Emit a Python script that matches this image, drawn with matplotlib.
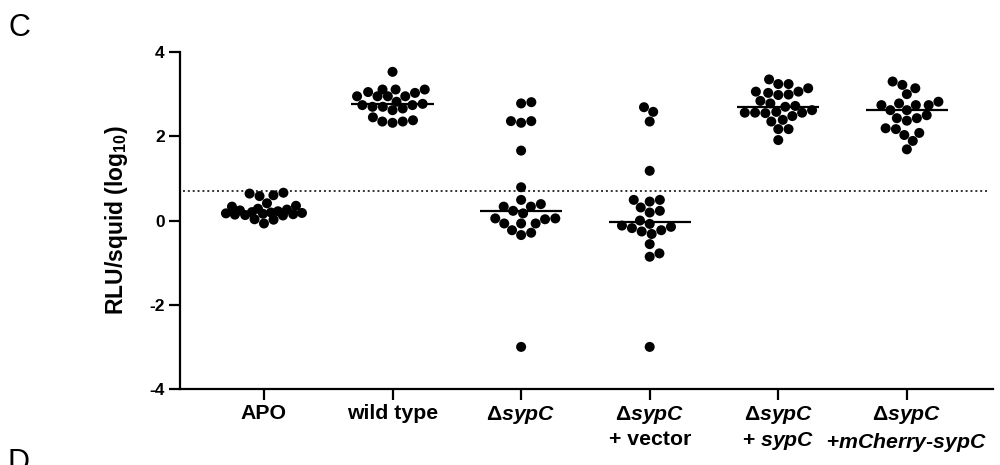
import numpy as np
import matplotlib
matplotlib.use("Agg")
import matplotlib.pyplot as plt

# ---------------- data ----------------
categories = ["APO", "wild type", "Δ$\\mathit{sypC}$", "Δ$\\mathit{sypC}$\n+ vector",
              "Δ$\\mathit{sypC}$\n+ $\\mathit{sypC}$",
              "Δ$\\mathit{sypC}$\n+$\\mathit{mCherry}$-$\\mathit{sypC}$"]

apo = [0.66, 0.64, 0.60, 0.58, 0.41, 0.35, 0.33, 0.28, 0.26, 0.24, 0.22, 0.20,
       0.19, 0.18, 0.17, 0.16, 0.15, 0.14, 0.13, 0.12, 0.03, 0.02, -0.07]
wild_type = [3.53, 3.11, 3.11, 3.11, 2.95, 2.95, 3.03, 3.05, 2.95, 2.95, 2.82, 2.77,
             2.66, 2.70, 2.62, 2.74, 2.74, 2.70, 2.35, 2.45, 2.35, 2.38, 2.32]
dsypc = [2.81, 2.78, 2.32, 2.36, 2.36, 1.66, 0.79, 0.49, 0.39, 0.33, 0.33, 0.17,
         0.23, 0.05, 0.05, 0.03, -0.07, -0.07, -0.07, -0.23, -0.29, -0.345, -3.0]
dsypc_vector = [2.69, 2.58, 2.35, 1.18, 0.49, 0.49, 0.45, 0.23, 0.31, 0.19, -0.08,
                0.0, -0.15, -0.12, -0.23, -0.26, -0.18, -0.32, -0.56, -0.78, -0.86, -3.0]
dsypc_sypc = [3.35, 3.24, 3.14, 3.24, 3.06, 3.06, 3.03, 2.98, 2.99, 2.84, 2.78, 2.62,
              2.70, 2.72, 2.56, 2.58, 2.56, 2.55, 2.56, 2.48, 2.39, 2.35, 2.17, 2.17, 1.91]
dsypc_mcherry = [3.30, 3.22, 3.14, 3.00, 2.82, 2.78, 2.62, 2.74, 2.74, 2.62, 2.74,
                 2.50, 2.43, 2.37, 2.43, 2.19, 2.08, 2.03, 2.17, 1.89, 1.69]
groups = [apo, wild_type, dsypc, dsypc_vector, dsypc_sypc, dsypc_mcherry]

threshold = 0.699
y_ticks = [-4, -2, 0, 2, 4]
y_label = "RLU/squid (log$_{\\mathbf{10}}$)"

# ---------------- style ----------------
plt.rcParams["font.family"] = ["Liberation Sans", "DejaVu Sans"]
plt.rcParams["font.weight"] = "bold"
plt.rcParams["mathtext.fontset"] = "custom"
plt.rcParams["mathtext.rm"] = "Liberation Sans:bold"
plt.rcParams["mathtext.bf"] = "Liberation Sans:bold"
plt.rcParams["mathtext.it"] = "Liberation Sans:italic:bold"
plt.rcParams["mathtext.default"] = "bf"

fig = plt.figure(figsize=(10, 4.65), dpi=100)
ax = fig.add_axes([0.18, 0.1634, 0.813, 0.7247])
xlim = (-0.653, 5.67)
ylim = (-4, 4)
ax.set_xlim(*xlim)
ax.set_ylim(*ylim)

# pixel scales for swarm layout
px_x = ax.bbox.width / (xlim[1] - xlim[0])
px_y = ax.bbox.height / (ylim[1] - ylim[0])
d = 10.3     # marker spacing in pixels
wmax = 38.0  # max half-width of a swarm in pixels


def swarm_offsets(values):
    ys = np.asarray(values) * px_y
    order = np.argsort(ys)
    placed = []
    offs = np.zeros(len(ys))
    grid = np.linspace(-wmax, wmax, 77)
    for i in order:
        y = ys[i]
        cands = [0.0]
        for xj, yj in placed:
            dy = y - yj
            if abs(dy) < d:
                dx = np.sqrt(d * d - dy * dy)
                cands += [xj + dx, xj - dx]
        cands = [c for c in cands if abs(c) <= wmax + 1e-9]
        cands.sort(key=abs)
        chosen = None
        for c in cands:
            if all((c - xj) ** 2 + (y - yj) ** 2 >= d * d - 1e-6 for xj, yj in placed):
                chosen = c
                break
        if chosen is None:
            best = None
            for g in sorted(grid, key=abs):
                md = min(np.hypot(g - xj, y - yj) for xj, yj in placed)
                if best is None or md > best[0] + 1e-9:
                    best = (md, g)
            chosen = best[1]
        placed.append((chosen, y))
        offs[i] = chosen
    return offs / px_x


for i, vals in enumerate(groups):
    offs = swarm_offsets(vals)
    ax.scatter(i + offs, vals, s=52, color="black", edgecolor="none", zorder=2)
    med = np.median(vals)
    ax.hlines(med, i - 0.32, i + 0.32, color="black", lw=1.6, zorder=3)

ax.hlines(threshold, -0.63, 5.62, color="#333333", lw=1.4,
          linestyles=(0, (1, 1.5)), zorder=1)

for s in ["top", "right"]:
    ax.spines[s].set_visible(False)
for s in ["left", "bottom"]:
    ax.spines[s].set_linewidth(1.6)

ax.set_yticks(y_ticks)
ax.set_yticklabels([str(t) for t in y_ticks])
ax.set_xticks(range(len(categories)))
ax.set_xticklabels(categories, linespacing=1.25)
ax.tick_params(axis="y", length=8, width=1.6, pad=3, labelsize=12.5)
ax.tick_params(axis="x", length=8, width=1.6, pad=3, labelsize=15.3)

ax.set_ylabel(y_label, fontsize=16.5, fontweight="bold")
ax.yaxis.set_label_coords(-0.0775, 0.5)
ax.yaxis.label.set_verticalalignment("center")

fig.text(0.008, 1 - 13 / 465, "C", fontsize=22, fontweight="normal", va="top", ha="left")
fig.text(0.008, 1 - 448 / 465, "D", fontsize=22, fontweight="normal", va="top", ha="left")

fig.savefig("out.png", dpi=100)
